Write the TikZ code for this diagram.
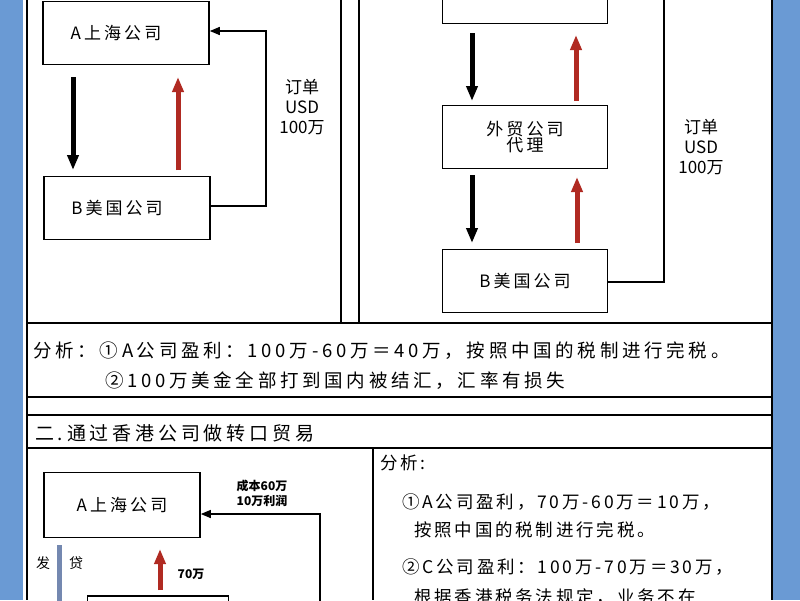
\documentclass[tikz,border=0pt]{standalone}
\usepackage{fontspec}
\setmainfont{Liberation Sans}
\newfontfamily\cjk{Noto Sans CJK SC}
\newfontfamily\cjksp[LetterSpace=18]{Noto Sans CJK SC}
\newfontfamily\cjkan[LetterSpace=20]{Noto Sans CJK SC}
\newfontfamily\cjkbr[LetterSpace=16]{Noto Sans CJK SC}
\usetikzlibrary{arrows.meta}
\definecolor{bgblue}{HTML}{6A9AD4}
\definecolor{arred}{HTML}{B02A22}
\definecolor{barblue}{HTML}{7488B0}
\begin{document}
\begin{tikzpicture}[x=1pt,y=-1pt,
  box/.style={draw,line width=1.6pt,minimum width=#1,inner sep=0pt,align=center,font=\cjksp\fontsize{17}{20}\selectfont},
  frame/.style={line width=1.5pt},
  down/.style={line width=5pt,-{Triangle[length=15pt,width=11pt]}},
  up/.style={line width=5pt,arred,-{Triangle[length=15pt,width=11pt]}},
  conn/.style={line width=1.4pt,-{Triangle[length=10pt,width=8pt]}},
  lbl/.style={font=\cjk\fontsize{17}{20}\selectfont,align=center,inner sep=0pt},
  ana/.style={font=\cjkan\fontsize{18.5}{20}\selectfont,anchor=west,inner sep=0pt},
  anb/.style={font=\cjkbr\fontsize{17.5}{20}\selectfont,anchor=west,inner sep=0pt}]
\useasboundingbox (0,0) rectangle (800,600);
\clip (0,0) rectangle (800,600);
\fill[bgblue] (0,0) rectangle (800,600);
\fill[white] (23,0) rectangle (773,600);
% frames
\draw[frame] (27,0) -- (27,600);
\draw[frame] (772,0) -- (772,600);
\draw[frame] (341,0) -- (341,323);
\draw[frame] (359,0) -- (359,323);
\draw[frame] (27,323) -- (772,323);
\draw[frame] (27,397) -- (772,397);
\draw[frame] (27,415) -- (772,415);
\draw[frame] (27,448) -- (772,448);
\draw[frame] (373,448) -- (373,600);
% top-left
\node[box=166pt,minimum height=63pt] (A1) at (126,33) {A上海公司\hspace*{20pt}};
\node[box=166pt,minimum height=63pt] (B1) at (127,208) {B美国公司\hspace*{20pt}};
\coordinate (a1d) at (73,77); \coordinate (b1d) at (73,170);
\draw[down] (a1d) -- (b1d);
\coordinate (b1u) at (178,170); \coordinate (a1u) at (178,77);
\draw[up] (b1u) -- (a1u);
\coordinate (c1) at (266,206); \coordinate (c2) at (266,31);
\draw[conn] (B1.east |- c1) -- (c1) -- (c2) -- (A1.east |- c2);
\node[lbl] (L1) at (302,107) {订单\\USD\\100万};
% top-right
\node[box=165pt,minimum height=63pt] (A2) at (525,-8) {A上海公司};
\node[box=165pt,minimum height=63pt] (W2) at (525,137) {外贸公司\\[-4pt]代理};
\node[box=165pt,minimum height=63pt] (B2) at (525,281) {B美国公司};
\coordinate (p1) at (472,33); \coordinate (p2) at (472,101);
\draw[down] (p1) -- (p2);
\coordinate (p3) at (576,101); \coordinate (p4) at (576,35);
\draw[up] (p3) -- (p4);
\coordinate (p5) at (472,175); \coordinate (p6) at (472,243);
\draw[down] (p5) -- (p6);
\coordinate (p7) at (577,243); \coordinate (p8) at (577,177);
\draw[up] (p7) -- (p8);
\coordinate (c3) at (664,282); \coordinate (c4) at (664,-5);
\draw[line width=1.4pt] (B2.east |- c3) -- (c3) -- (c4);
\node[lbl] (L2) at (701,147) {订单\\USD\\100万};
% analysis
\node[ana] (an1) at (33,351) {分析：①A公司盈利：100万-60万＝40万，按照中国的税制进行完税。};
\node[ana] (an2) at (105,381) {②100万美金全部打到国内被结汇，汇率有损失};
\node[ana,font=\cjkan\fontsize{19}{22}\selectfont] (t2) at (35,433) {二.通过香港公司做转口贸易};
% bottom-left
\node[box=156pt,minimum height=65pt] (A3) at (122,505) {A上海公司};
\node[box=141pt,minimum height=40pt,anchor=north] (C3) at (158,595) {};
\coordinate (c5) at (320,605); \coordinate (c6) at (320,514);
\draw[conn] (c5) -- (c6) -- (A3.east |- c6);
\node[lbl,font=\cjk\bfseries\fontsize{12}{15}\selectfont] (L3) at (262,493) {成本60万\\10万利润};
\coordinate (bb1) at (59,545); \coordinate (bb2) at (59,605);
\draw[barblue,line width=5pt] (bb1) -- (bb2);
\node[lbl,font=\cjk\fontsize{14}{15}\selectfont] (f1) at (43,563) {发};
\node[lbl,font=\cjk\fontsize{14}{15}\selectfont] (f2) at (76,563) {贷};
\coordinate (r1) at (160,590); \coordinate (r2) at (160,549);
\draw[up] (r1) -- (r2);
\node[lbl,font=\cjk\bfseries\fontsize{12}{15}\selectfont] (L4) at (191,574) {70万};
% bottom-right analysis
\node[anb] (b0) at (380,463) {分析:};
\node[anb] (b1) at (402,502) {①A公司盈利，70万-60万＝10万，};
\node[anb] (b2) at (414,530) {按照中国的税制进行完税。};
\node[anb] (b3) at (402,567) {②C公司盈利：100万-70万＝30万，};
\node[anb] (b4) at (414,597) {根据香港税务法规定，业务不在};
\end{tikzpicture}
\end{document}
